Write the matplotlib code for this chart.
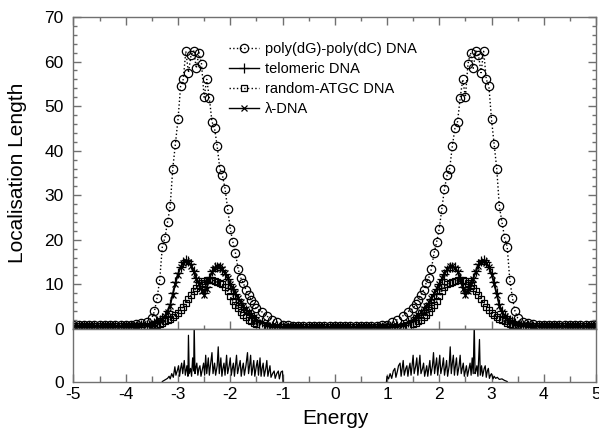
import numpy as np
import matplotlib
matplotlib.use("Agg")
import matplotlib.pyplot as plt
from matplotlib.ticker import MultipleLocator

plt.rcParams['font.family'] = ['Liberation Sans', 'DejaVu Sans']
plt.rcParams['axes.unicode_minus'] = False

# energy grid (coarse in the tails, fine around the bands)
energy = [
    -5.0, -4.9, -4.8, -4.7, -4.6, -4.5, -4.4, -4.3, -4.2, -4.1, -4.0, -3.9, -3.8, -3.7, -3.6,
    -3.5, -3.45, -3.4, -3.35, -3.3, -3.25, -3.2, -3.15, -3.1, -3.05, -3.0, -2.95, -2.9, -2.85,
    -2.8, -2.75, -2.7, -2.65, -2.6, -2.55, -2.5, -2.45, -2.4, -2.35, -2.3, -2.25, -2.2, -2.15,
    -2.1, -2.05, -2.0, -1.95, -1.9, -1.85, -1.8, -1.75, -1.7, -1.65, -1.6, -1.55, -1.5,
    -1.4, -1.3, -1.2, -1.1, -1.0, -0.9, -0.8, -0.7, -0.6, -0.5, -0.4, -0.3, -0.2, -0.1, 0.0,
    0.1, 0.2, 0.3, 0.4, 0.5, 0.6, 0.7, 0.8, 0.9, 1.0, 1.1, 1.2, 1.3, 1.4,
    1.5, 1.55, 1.6, 1.65, 1.7, 1.75, 1.8, 1.85, 1.9, 1.95, 2.0, 2.05, 2.1, 2.15, 2.2, 2.25,
    2.3, 2.35, 2.4, 2.45, 2.5, 2.55, 2.6, 2.65, 2.7, 2.75, 2.8, 2.85, 2.9, 2.95, 3.0, 3.05,
    3.1, 3.15, 3.2, 3.25, 3.3, 3.35, 3.4, 3.45, 3.5,
    3.6, 3.7, 3.8, 3.9, 4.0, 4.1, 4.2, 4.3, 4.4, 4.5, 4.6, 4.7, 4.8, 4.9, 5.0,
]

loc_poly = [
    0.8, 0.8, 0.8, 0.8, 0.8, 0.8, 0.85, 0.85, 0.9, 0.9, 1.0, 1.0, 1.1, 1.3, 1.6,
    2.5, 4.0, 7.0, 11.0, 18.5, 20.5, 24.0, 27.5, 36.0, 41.5, 47.0, 54.5, 56.0, 62.3,
    57.5, 61.5, 62.4, 58.5, 62.0, 59.5, 52.0, 56.0, 51.8, 46.5, 45.0, 41.0, 36.0, 34.5,
    31.5, 27.0, 22.5, 19.5, 17.0, 13.5, 11.5, 10.3, 8.8, 7.6, 6.6, 5.6, 4.6,
    3.9, 2.9, 2.1, 1.5, 1.0, 0.8, 0.7, 0.7, 0.7, 0.7, 0.7, 0.7, 0.7, 0.7, 0.7,
    0.7, 0.7, 0.7, 0.7, 0.7, 0.7, 0.7, 0.7, 0.8, 1.0, 1.5, 2.1, 2.9, 3.9,
    4.6, 5.6, 6.6, 7.6, 8.8, 10.3, 11.5, 13.5, 17.0, 19.5, 22.5, 27.0, 31.5, 34.5, 36.0, 41.0,
    45.0, 46.5, 51.8, 56.0, 52.0, 59.5, 62.0, 58.5, 62.4, 61.5, 57.5, 62.3, 56.0, 54.5, 47.0, 41.5,
    36.0, 27.5, 24.0, 20.5, 18.5, 11.0, 7.0, 4.0, 2.5,
    1.6, 1.3, 1.1, 1.0, 1.0, 0.9, 0.9, 0.85, 0.85, 0.8, 0.8, 0.8, 0.8, 0.8, 0.8,
]

loc_telomeric = [
    0.6, 0.6, 0.6, 0.6, 0.6, 0.6, 0.6, 0.6, 0.6, 0.6, 0.65, 0.65, 0.7, 0.8, 0.9,
    1.0, 1.3, 1.7, 2.0, 2.4, 3.0, 4.0, 5.5, 8.0, 10.5, 12.5, 14.0, 15.0, 15.5,
    15.3, 14.5, 13.0, 11.5, 10.5, 9.0, 8.0, 9.5, 11.5, 13.0, 13.8, 14.0, 14.0, 13.2,
    12.3, 11.2, 10.0, 9.0, 7.8, 6.8, 5.8, 5.0, 4.3, 3.6, 3.1, 2.6, 2.1,
    1.5, 1.0, 0.75, 0.6, 0.5, 0.45, 0.45, 0.45, 0.45, 0.45, 0.45, 0.45, 0.45, 0.45, 0.45,
    0.45, 0.45, 0.45, 0.45, 0.45, 0.45, 0.45, 0.45, 0.45, 0.5, 0.6, 0.75, 1.0, 1.5,
    2.1, 2.6, 3.1, 3.6, 4.3, 5.0, 5.8, 6.8, 7.8, 9.0, 10.0, 11.2, 12.3, 13.2, 14.0, 14.0,
    13.8, 13.0, 11.5, 9.5, 8.0, 9.0, 10.5, 11.5, 13.0, 14.5, 15.3, 15.5, 15.0, 14.0, 12.5, 10.5,
    8.0, 5.5, 4.0, 3.0, 2.4, 2.0, 1.7, 1.3, 1.0,
    0.9, 0.8, 0.7, 0.65, 0.65, 0.6, 0.6, 0.6, 0.6, 0.6, 0.6, 0.6, 0.6, 0.6, 0.6,
]

loc_random = [
    0.6, 0.6, 0.6, 0.6, 0.6, 0.6, 0.6, 0.6, 0.6, 0.6, 0.6, 0.65, 0.65, 0.7, 0.75,
    0.8, 0.9, 1.0, 1.2, 1.4, 1.7, 2.0, 2.3, 2.7, 3.1, 3.6, 4.3, 5.0, 5.8,
    6.7, 7.6, 8.5, 9.2, 9.8, 10.3, 10.8, 11.0, 11.1, 11.0, 10.8, 10.5, 10.3, 10.0,
    9.5, 8.5, 7.3, 6.2, 5.3, 4.6, 3.8, 3.2, 2.6, 2.1, 1.7, 1.4, 1.1,
    0.75, 0.6, 0.5, 0.5, 0.5, 0.5, 0.5, 0.5, 0.5, 0.5, 0.5, 0.5, 0.5, 0.5, 0.5,
    0.5, 0.5, 0.5, 0.5, 0.5, 0.5, 0.5, 0.5, 0.5, 0.5, 0.5, 0.5, 0.6, 0.75,
    1.1, 1.4, 1.7, 2.1, 2.6, 3.2, 3.8, 4.6, 5.3, 6.2, 7.3, 8.5, 9.5, 10.0, 10.3, 10.5,
    10.8, 11.0, 11.1, 11.0, 10.8, 10.3, 9.8, 9.2, 8.5, 7.6, 6.7, 5.8, 5.0, 4.3, 3.6, 3.1,
    2.7, 2.3, 2.0, 1.7, 1.4, 1.2, 1.0, 0.9, 0.8,
    0.75, 0.7, 0.65, 0.65, 0.6, 0.6, 0.6, 0.6, 0.6, 0.6, 0.6, 0.6, 0.6, 0.6, 0.6,
]

loc_lambda = [
    0.6, 0.6, 0.6, 0.6, 0.6, 0.6, 0.6, 0.6, 0.6, 0.6, 0.65, 0.65, 0.7, 0.8, 0.9,
    1.0, 1.2, 1.6, 1.9, 2.3, 2.9, 3.8, 5.2, 7.6, 10.0, 12.2, 13.8, 14.8, 15.2,
    15.0, 14.2, 12.8, 11.2, 10.0, 8.6, 7.6, 9.0, 11.0, 12.8, 13.7, 14.2, 14.1, 13.4,
    12.5, 11.4, 10.2, 9.1, 8.0, 6.9, 6.0, 5.1, 4.4, 3.7, 3.1, 2.6, 2.1,
    1.5, 1.0, 0.75, 0.6, 0.5, 0.45, 0.45, 0.45, 0.45, 0.45, 0.45, 0.45, 0.45, 0.45, 0.45,
    0.45, 0.45, 0.45, 0.45, 0.45, 0.45, 0.45, 0.45, 0.45, 0.5, 0.6, 0.75, 1.0, 1.5,
    2.1, 2.6, 3.1, 3.7, 4.4, 5.1, 6.0, 6.9, 8.0, 9.1, 10.2, 11.4, 12.5, 13.4, 14.1, 14.2,
    13.7, 12.8, 11.0, 9.0, 7.6, 8.6, 10.0, 11.2, 12.8, 14.2, 15.0, 15.2, 14.8, 13.8, 12.2, 10.0,
    7.6, 5.2, 3.8, 2.9, 2.3, 1.9, 1.6, 1.2, 1.0,
    0.9, 0.8, 0.7, 0.65, 0.65, 0.6, 0.6, 0.6, 0.6, 0.6, 0.6, 0.6, 0.6, 0.6, 0.6,
]

# density of states (lower panel), lower and upper band
dos_energy_low = [
    -3.30, -3.25, -3.20, -3.17, -3.15, -3.12, -3.09, -3.06, -3.04, -3.01, -2.99, -2.97,
    -2.95, -2.93, -2.91, -2.88, -2.86, -2.83, -2.81, -2.80, -2.785, -2.76, -2.74, -2.72,
    -2.70, -2.69, -2.675, -2.66, -2.64, -2.62, -2.60, -2.58, -2.56, -2.53, -2.51, -2.49,
    -2.47, -2.45, -2.42, -2.40, -2.38, -2.35, -2.33, -2.30, -2.28, -2.25, -2.23, -2.21,
    -2.18, -2.16, -2.14, -2.12, -2.10, -2.07, -2.05, -2.02, -2.00, -1.98, -1.96, -1.94,
    -1.92, -1.90, -1.88, -1.86, -1.83, -1.81, -1.79, -1.77, -1.75, -1.73, -1.70, -1.67,
    -1.65, -1.63, -1.61, -1.59, -1.57, -1.55, -1.53, -1.50, -1.48, -1.46, -1.43, -1.41,
    -1.39, -1.37, -1.35, -1.32, -1.30, -1.28, -1.26, -1.24, -1.22, -1.19, -1.16, -1.14,
    -1.11, -1.08, -1.06, -1.03, -1.00, -0.99,
]
dos_low = [
    0.0, 0.03, 0.06, 0.10, 0.05, 0.15, 0.08, 0.28, 0.12, 0.22, 0.30, 0.10,
    0.25, 0.35, 0.15, 0.40, 0.12, 0.30, 0.10, 0.88, 0.15, 0.25, 0.10, 0.45,
    0.20, 1.10, 0.15, 0.25, 0.35, 0.12, 0.25, 0.30, 0.10, 0.25, 0.35, 0.12,
    0.50, 0.15, 0.45, 0.12, 0.30, 0.55, 0.15, 0.35, 0.12, 0.30, 0.66, 0.15,
    0.45, 0.10, 0.25, 0.35, 0.12, 0.50, 0.15, 0.30, 0.45, 0.12, 0.25, 0.35,
    0.10, 0.30, 0.50, 0.15, 0.30, 0.40, 0.10, 0.25, 0.35, 0.12, 0.30, 0.55,
    0.15, 0.30, 0.50, 0.12, 0.25, 0.40, 0.10, 0.30, 0.40, 0.12, 0.45, 0.10,
    0.25, 0.35, 0.10, 0.25, 0.40, 0.10, 0.20, 0.30, 0.08, 0.15, 0.20, 0.06,
    0.15, 0.20, 0.05, 0.18, 0.20, 0.0,
]
dos_energy_high = [
    0.99, 1.00, 1.03, 1.06, 1.09, 1.12, 1.15, 1.17, 1.20, 1.22, 1.25, 1.27,
    1.29, 1.31, 1.33, 1.36, 1.38, 1.40, 1.42, 1.44, 1.46, 1.48, 1.50, 1.52,
    1.55, 1.57, 1.59, 1.61, 1.63, 1.65, 1.68, 1.70, 1.72, 1.74, 1.76, 1.78,
    1.80, 1.82, 1.84, 1.87, 1.89, 1.91, 1.93, 1.95, 1.97, 1.99, 2.01, 2.03,
    2.06, 2.08, 2.10, 2.12, 2.14, 2.16, 2.19, 2.21, 2.23, 2.25, 2.27, 2.29,
    2.31, 2.33, 2.35, 2.38, 2.40, 2.42, 2.44, 2.46, 2.48, 2.50, 2.52, 2.54,
    2.57, 2.59, 2.61, 2.63, 2.65, 2.67, 2.685, 2.70, 2.72, 2.74, 2.77, 2.785,
    2.81, 2.83, 2.86, 2.88, 2.90, 2.92, 2.94, 2.96, 2.98, 3.00, 3.03, 3.05,
    3.08, 3.11, 3.15, 3.20, 3.25, 3.30,
]
dos_high = [
    0.0, 0.10, 0.05, 0.15, 0.06, 0.20, 0.25, 0.08, 0.20, 0.30, 0.35, 0.10,
    0.25, 0.40, 0.12, 0.25, 0.30, 0.10, 0.25, 0.35, 0.12, 0.30, 0.50, 0.15,
    0.30, 0.45, 0.12, 0.30, 0.50, 0.15, 0.25, 0.35, 0.10, 0.20, 0.30, 0.10,
    0.25, 0.40, 0.12, 0.30, 0.55, 0.15, 0.30, 0.45, 0.12, 0.30, 0.50, 0.15,
    0.30, 0.45, 0.12, 0.25, 0.40, 0.10, 0.30, 0.66, 0.15, 0.35, 0.50, 0.12,
    0.30, 0.45, 0.12, 0.30, 0.50, 0.15, 0.25, 0.35, 0.10, 0.20, 0.30, 0.10,
    0.25, 0.35, 0.12, 0.45, 0.15, 1.10, 0.15, 0.20, 0.30, 0.10, 0.80, 0.12,
    0.30, 0.10, 0.25, 0.30, 0.08, 0.20, 0.25, 0.06, 0.12, 0.15, 0.05, 0.10,
    0.06, 0.08, 0.04, 0.05, 0.02, 0.0,
]

labels = ['poly(dG)-poly(dC) DNA', 'telomeric DNA', 'random-ATGC DNA', 'λ-DNA']

frame = '#707070'

fig = plt.figure(figsize=(5.99, 4.41), dpi=100)
ax = fig.add_axes([0.1227, 0.254, 0.8723, 0.7075])
ax2 = fig.add_axes([0.1227, 0.1349, 0.8723, 0.1191])

ax.plot(energy, loc_poly, ls=':', lw=1.0, color='black', marker='o', ms=6,
        mfc='none', mec='black', mew=0.9, label=labels[0])
ax.plot(energy, loc_telomeric, ls='-', lw=1.0, color='black', marker='+', ms=7,
        mew=0.9, label=labels[1])
ax.plot(energy, loc_random, ls=':', lw=1.0, color='black', marker='s', ms=5,
        mfc='none', mec='black', mew=0.9, label=labels[2])
ax.plot(energy, loc_lambda, ls='-', lw=1.0, color='black', marker='x', ms=5,
        mew=0.9, label=labels[3])

ax.set_xlim(-5, 5)
ax.set_ylim(0, 70)
ax.xaxis.set_major_locator(MultipleLocator(1))
ax.xaxis.set_minor_locator(MultipleLocator(0.5))
ax.yaxis.set_major_locator(MultipleLocator(10))
ax.yaxis.set_minor_locator(MultipleLocator(2))
ax.tick_params(which='both', direction='in', top=True, right=True, color=frame,
               labelbottom=False, labelsize=12.5, pad=7)
ax.tick_params(which='major', length=6, width=1)
ax.tick_params(which='minor', length=3, width=1)

leg = ax.legend(loc='upper left', bbox_to_anchor=(0.297, 0.92), frameon=False,
                fontsize=10.5, handlelength=2.1, handletextpad=0.4,
                labelspacing=0.42, borderpad=0, borderaxespad=0)

ax2.plot(dos_energy_low, dos_low, color='black', lw=0.9)
ax2.plot(dos_energy_high, dos_high, color='black', lw=0.9)
ax2.set_xlim(-5, 5)
ax2.set_ylim(0, 1.0)
ax2.set_yticks([0])
ax2.xaxis.set_major_locator(MultipleLocator(1))
ax2.xaxis.set_minor_locator(MultipleLocator(0.5))
ax2.tick_params(which='both', direction='in', top=False, right=False, color=frame,
                labelsize=12.5, pad=4)
ax2.tick_params(axis='y', pad=7, length=0)
ax2.tick_params(axis='x', which='major', length=6, width=1)
ax2.tick_params(axis='x', which='minor', length=4, width=1)

for a in (ax, ax2):
    for s in a.spines.values():
        s.set_color(frame)
        s.set_linewidth(1.0)

fig.text(18 / 599, 1 - 173 / 441, 'Localisation Length', rotation=90,
         ha='center', va='center', fontsize=15)
fig.text(335 / 599, 1 - 418 / 441, 'Energy', ha='center', va='center', fontsize=15)

fig.savefig('out.png', dpi=100)
